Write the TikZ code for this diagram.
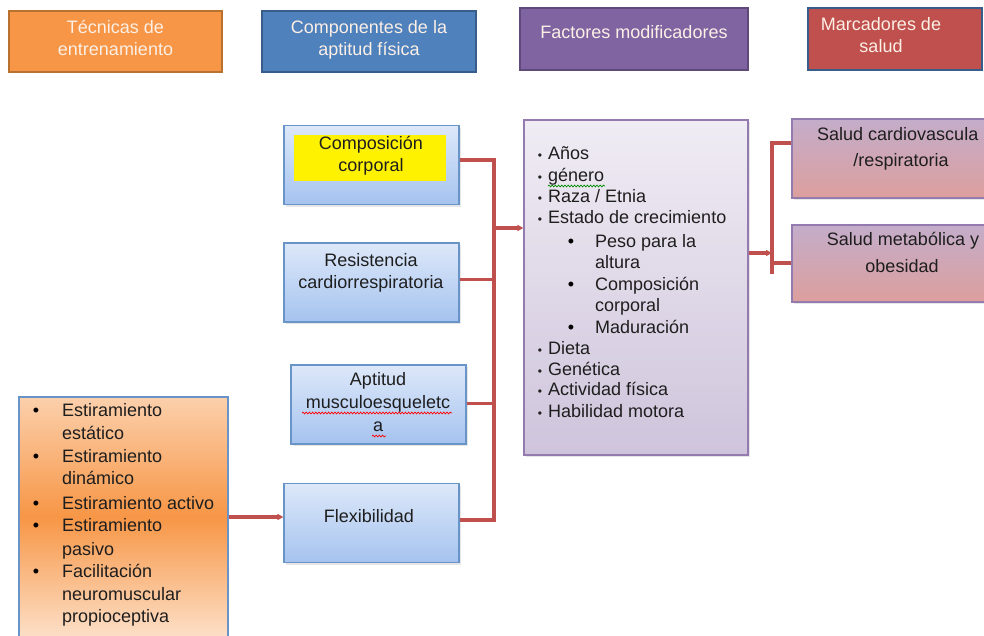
\documentclass[tikz,border=0pt]{standalone}
\usepackage{fontspec}
\setmainfont{Liberation Sans}
\usetikzlibrary{shadows,decorations.pathmorphing,arrows.meta}
\definecolor{orH}{HTML}{F79646}\definecolor{orHb}{HTML}{B9712F}
\definecolor{blH}{HTML}{4F81BD}\definecolor{blHb}{HTML}{385D8A}
\definecolor{puH}{HTML}{8064A2}\definecolor{puHb}{HTML}{5F4A7A}
\definecolor{reH}{HTML}{C0504D}
\definecolor{lnk}{HTML}{C0504D}
\definecolor{txt}{HTML}{1E1E1E}
\definecolor{htx}{HTML}{FBEFE6}
\definecolor{cTop}{HTML}{DDE8F9}
\definecolor{cBot}{HTML}{A5C3EF}
\newcommand{\fs}{\fontsize{18}{22}\selectfont}
\begin{document}
\begin{tikzpicture}[x=1pt,y=-1pt,
  hdr/.style={draw=#1, line width=2.2pt, minimum width=213pt, minimum height=61pt, inner sep=0pt},
  htxt/.style={font=\fs, text=htx, inner sep=0pt, anchor=mid, yshift=-4pt},
  shd/.style={drop shadow={opacity=0.2, shadow xshift=2pt, shadow yshift=-2pt}},
  comp/.style={draw=blH!85, line width=1.1pt, top color=cTop, bottom color=cBot,
     minimum width=175pt, minimum height=79pt, inner sep=0pt, shd},
  ct/.style={font=\fs, text=txt, inner sep=0pt, anchor=mid, yshift=-4pt},
  lt/.style={font=\fs, text=txt, inner sep=0pt, anchor=mid west, yshift=-4pt},
  conn/.style={draw=lnk, line width=3.4pt, line join=miter},
  arr/.style={conn, -{Triangle[length=6pt,width=6pt]}},
  wav/.style={decorate, decoration={snake, amplitude=0.9pt, segment length=3.2pt}, line width=0.7pt}]
\useasboundingbox (0,0) rectangle (984,635);
\begin{scope}
\clip (0,0) rectangle (984,635);
% headers
\node[hdr=orHb, fill=orH] (h1) at (115.5,41.5) {};
\node[hdr=blHb, fill=blH, minimum width=214pt] (h2) at (369,41.5) {};
\node[hdr=puHb, fill=puH, minimum width=228pt, minimum height=62pt] (h3) at (634,39) {};
\node[hdr=blHb, fill=reH, minimum width=174pt, minimum height=62pt] (h4) at (895,39) {};
\node[htxt] (h1a) at (115.5,27) {Técnicas de};
\node[htxt] (h1b) at (115.5,49) {entrenamiento};
\node[htxt] (h2a) at (369,27) {Componentes de la};
\node[htxt] (h2b) at (369,49) {aptitud física};
\node[htxt] (h3a) at (634,32) {Factores modificadores};
\node[htxt] (h4a) at (881,24) {Marcadores de};
\node[htxt] (h4b) at (881,46) {salud};
% components
\node[comp] (cc) at (371.5,165) {};
\node[comp] (cr) at (371.5,282.5) {};
\node[comp] (ca) at (378.5,404.5) {};
\node[comp] (cf) at (371.5,523) {};
\fill[yellow] (294,135) rectangle (446,181);
\node[ct] (cc1) at (371,143) {Composición};
\node[ct] (cc2) at (371,165) {corporal};
\node[ct] (cr1) at (371,260) {Resistencia};
\node[ct] (cr2) at (371,282) {cardiorrespiratoria};
\node[ct] (ca1) at (378,379) {Aptitud};
\node[ct] (ca2) at (378,402) {musculoesqueletc};
\node[ct] (ca3) at (378,425) {a};
\node[ct] (cf1) at (369,516) {Flexibilidad};
\draw[red, wav] (302,413) -- (452,413);
\draw[red, wav] (372,436) -- (386,436);
% factores box
\node[draw=puH!85, line width=1.1pt, top color=puH!12!white, bottom color=puH!38!white,
  minimum width=224pt, minimum height=335pt, inner sep=0pt, shd] (fm) at (636,287.5) {};
\foreach \yy [count=\i] in {153,175,196,217,348,369,389,411}
  \node[font=\fontsize{12}{12}\selectfont, text=txt, inner sep=0pt, anchor=mid, yshift=-4pt] (fb\i) at (540,\yy) {•};
\foreach \yy [count=\i] in {241,284,327}
  \node[font=\fs, text=black, inner sep=0pt, anchor=mid, yshift=-4pt] (fs\i) at (571,\yy) {•};
\node[lt] (f1) at (548,153) {Años};
\node[lt] (f2) at (548,175) {género};
\node[lt] (f3) at (548,196) {Raza / Etnia};
\node[lt] (f4) at (548,217) {Estado de crecimiento};
\node[lt] (f5) at (595,241) {Peso para la};
\node[lt] (f6) at (595,262) {altura};
\node[lt] (f7) at (595,284) {Composición};
\node[lt] (f8) at (595,305) {corporal};
\node[lt] (f9) at (595,327) {Maduración};
\node[lt] (f10) at (548,348) {Dieta};
\node[lt] (f11) at (548,369) {Genética};
\node[lt] (f12) at (548,389) {Actividad física};
\node[lt] (f13) at (548,411) {Habilidad motora};
\draw[green!55!black, wav] (548,186) -- (605,186);
% salud boxes
\node[draw=puH!85, line width=1.1pt, top color=puH!55!white!85!pink, bottom color=reH!55!white,
  minimum width=218pt, minimum height=79pt, inner sep=0pt, shd] (s1) at (901,158.5) {};
\node[draw=puH!85, line width=1.1pt, top color=puH!55!white!85!pink, bottom color=reH!55!white,
  minimum width=218pt, minimum height=77pt, inner sep=0pt, shd] (s2) at (901,263.5) {};
\node[lt] (s1a) at (817,134) {Salud cardiovascula};
\node[ct] (s1b) at (901,160) {/respiratoria};
\node[ct] (s2a) at (903,239) {Salud metabólica y};
\node[ct] (s2b) at (902,266) {obesidad};
% tecnicas box
\node[draw=blH!85, line width=1.1pt, top color=orH!45!white, bottom color=orH!30!white, middle color=orH,
  minimum width=209pt, minimum height=240pt, inner sep=0pt] (tb) at (123.5,517) {};
\foreach \yy [count=\i] in {410,456,503,525,571}
  \node[font=\fs, text=black, inner sep=0pt, anchor=mid, yshift=-4pt] (tbb\i) at (36,\yy) {•};
\node[lt] (t1) at (62,410) {Estiramiento};
\node[lt] (t2) at (62,433) {estático};
\node[lt] (t3) at (62,456) {Estiramiento};
\node[lt] (t4) at (62,478) {dinámico};
\node[lt] (t5) at (62,503) {Estiramiento activo};
\node[lt] (t6) at (62,525) {Estiramiento};
\node[lt] (t7) at (62,549) {pasivo};
\node[lt] (t8) at (62,571) {Facilitación};
\node[lt] (t9) at (62,594) {neuromuscular};
\node[lt] (t10) at (62,616) {propioceptiva};
% connectors
\coordinate (bt) at (494,160);
\coordinate (bb) at (494,520);
\coordinate (ba) at (494,228);
\draw[conn] ([yshift=5pt]cc.east) -- (bt) -- (bb) -- ([yshift=3pt]cf.east);
\draw[conn] ([yshift=3pt]cr.east) -- ++(35,0);
\draw[conn] ([yshift=1pt]ca.east) -- ++(28,0);
\draw[arr] (ba) -- (ba -| fm.west);
\coordinate (rt) at (772,143);
\coordinate (rb) at (772,274);
\coordinate (ra) at (772,253);
\draw[conn] (s1.west |- rt) -- (rt) -- (rb);
\draw[conn] ([yshift=0.5pt]s2.west) -- ++(-20,0);
\draw[arr] (fm.east |- ra) -- (ra);
\draw[arr] (tb.east) -- (cf.west |- tb.east);
\end{scope}
\end{tikzpicture}
\end{document}
